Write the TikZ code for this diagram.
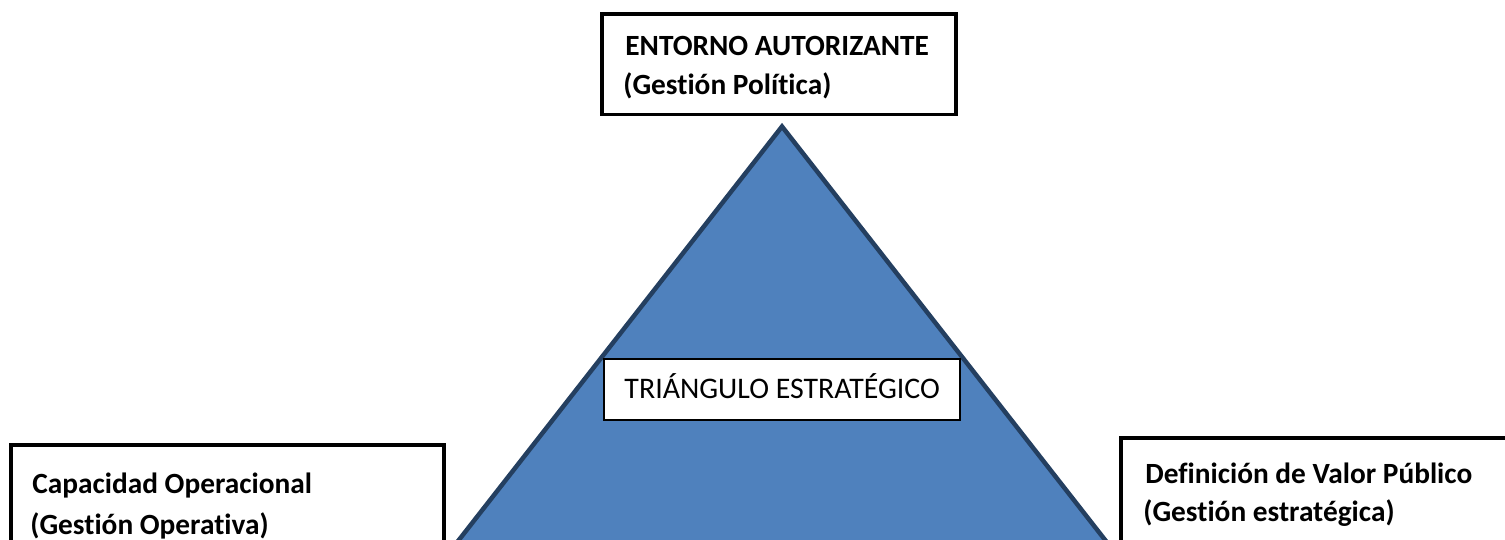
\documentclass[tikz,border=0pt]{standalone}
\usepackage{fontspec}
\setmainfont[Ligatures=NoCommon]{Carlito}
\usepackage{xcolor}
\usepackage{tikz}
\usetikzlibrary{positioning}
\definecolor{triblue}{HTML}{4F81BD}
\definecolor{triedge}{HTML}{243F60}

\begin{document}
\begin{tikzpicture}[x=0.02cm,y=-0.02cm,
        outbox/.style={draw=black,line width=0.08cm,fill=white,inner sep=0pt},
        midbox/.style={draw=black,line width=0.04cm,fill=white,inner sep=0pt,
            minimum width=7.13cm,minimum height=1.22cm,text height=10.8pt,text depth=0pt,
            font=\fontsize{17}{20}\selectfont},
        boxtext/.style={inner sep=0pt,anchor=base west,font=\fontsize{16.7}{20}\selectfont\bfseries}]
        \useasboundingbox (0,0) rectangle (1505,539);
        \clip (0,0) rectangle (1505,539);

        % Triangle
        \draw[fill=triblue,draw=triedge,line width=0.09cm,line join=miter]
            (782,126.5) -- (1152,600) -- (412,600) -- cycle;

        % Middle label
        \node[midbox] (tri) at (782.2,389.1) {TRIÁNGULO ESTRATÉGICO};

        % Top box
        \node[outbox,minimum width=7.1cm,minimum height=2.01cm] (entorno) at (779,64.25) {};
        \node[boxtext] (entorno1) at (625,55) {ENTORNO AUTORIZANTE};
        \node[boxtext] (entorno2) at (623,94.3) {(Gestión Política)};

        % Left box
        \node[outbox,minimum width=8.67cm,minimum height=3cm] (capacidad) at (227.25,519.5) {};
        \node[boxtext] (capacidad1) at (32,493.3) {Capacidad Operacional};
        \node[boxtext] (capacidad2) at (30,534) {(Gestión Operativa)};

        % Right box
        \node[outbox,minimum width=9.58cm,minimum height=3cm] (valor) at (1360.5,512.5) {};
        \node[boxtext] (valor1) at (1145,483.3) {Definición de Valor Público};
        \node[boxtext] (valor2) at (1143,521.7) {(Gestión estratégica)};
\end{tikzpicture}
\end{document}
